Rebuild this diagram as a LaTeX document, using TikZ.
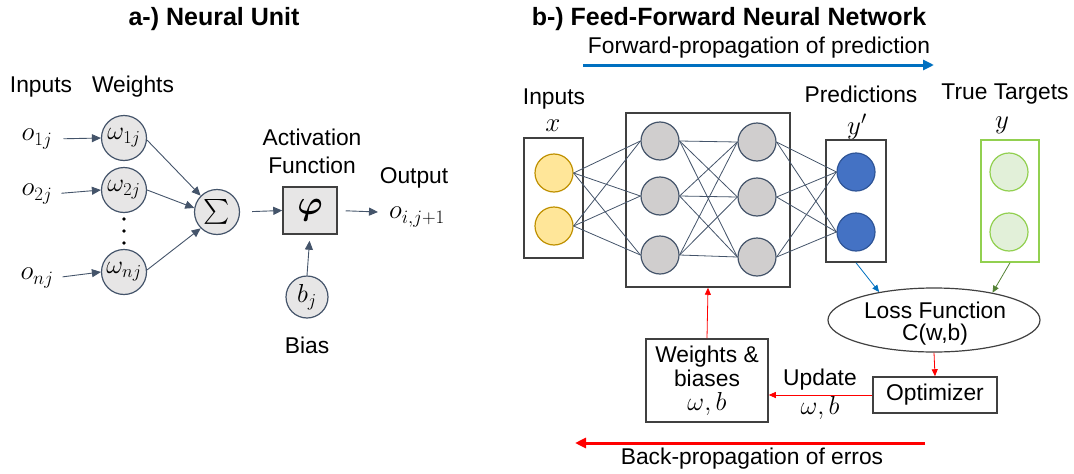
\RequirePackage{fix-cm}
\documentclass[tikz,border=0pt]{standalone}
\usepackage{amsmath}
\usepackage[no-math]{fontspec}
\setmainfont{Liberation Sans}
\usetikzlibrary{arrows.meta,shapes.geometric}
\definecolor{edgec}{HTML}{44546A}
\definecolor{dgray}{HTML}{404040}
\definecolor{lgfill}{HTML}{E7E6E6}
\definecolor{hidfill}{HTML}{D0CECE}
\definecolor{yelfill}{HTML}{FFE699}
\definecolor{yeldraw}{HTML}{BF9000}
\definecolor{bluefill}{HTML}{4472C4}
\definecolor{bluedraw}{HTML}{2F5597}
\definecolor{grnfill}{HTML}{E2F0D9}
\definecolor{grndraw}{HTML}{92D050}
\definecolor{grnarrow}{HTML}{548235}
\definecolor{fwdblue}{HTML}{0070C0}
\begin{document}
\begin{tikzpicture}[x=1pt,y=-1pt,
  font=\fontsize{22.8}{26}\selectfont,
  txt/.style={inner sep=0pt, align=center},
  mth/.style={inner sep=0pt, font=\fontsize{27}{30}\selectfont},
  wc/.style={circle, draw=edgec, fill=lgfill, line width=1.2pt, minimum size=45pt, inner sep=0pt, font=\fontsize{26}{28}\selectfont},
  nc/.style={circle, line width=1.2pt, minimum size=38pt, inner sep=0pt},
  hid/.style={nc, draw=edgec, fill=hidfill},
  yel/.style={nc, draw=yeldraw, fill=yelfill},
  blu/.style={nc, draw=bluedraw, fill=bluefill},
  grn/.style={nc, draw=grndraw, fill=grnfill},
  nbox/.style={draw=dgray, line width=1.5pt, inner sep=0pt, align=center},
  arr/.style={draw=edgec, line width=0.9pt, -{Triangle[length=9pt,width=8pt]}},
  conn/.style={draw=edgec, line width=0.8pt},
  thinarr/.style={line width=0.8pt, -{Triangle[length=7pt,width=6pt]}},
  bigarr/.style={line width=3pt, -{Triangle[length=11pt,width=10pt]}}
]
\useasboundingbox (0,0) rectangle (1074,474);

% ---------- a) Neural unit ----------
\node[txt, font=\fontsize{25}{28}\selectfont\bfseries] (ta) at (214,19) {a-) Neural Unit};
\node[txt] (inA) at (41,87) {Inputs};
\node[txt] (wA) at (133,87) {Weights};
\node[mth] (o1) at (37,139) {$o_{1j}$};
\node[mth] (o2) at (37,194) {$o_{2j}$};
\node[mth] (on) at (37,278) {$o_{nj}$};
\node[wc] (w1) at (124,138) {$\omega_{1j}$};
\node[wc] (w2) at (124,190) {$\omega_{2j}$};
\node[wc] (wn) at (124,272) {$\omega_{nj}$};
\fill (124,219) circle (1.8);
\fill (124,231) circle (1.8);
\fill (124,243) circle (1.8);
\node[wc] (sum) at (217,212) {\fontsize{29}{30}\selectfont$\sum$};
\node[nbox, fill=lgfill, minimum width=54pt, minimum height=47pt, font=\fontsize{34}{34}\selectfont] (phi) at (310,210.5) {$\boldsymbol{\varphi}$};
\node[txt, font=\fontsize{22.8}{28}\selectfont] (act) at (312,151) {Activation\\Function};
\node[txt] (outl) at (414,178) {Output};
\node[mth] (oo) at (417,217) {$o_{i,j+1}$};
\coordinate (oend) at (378,212);
\node[wc, minimum size=42pt] (bj) at (307,297) {$b_j$};
\node[txt] (bias) at (307,345) {Bias};

\draw[arr, shorten <=11pt] (o1.east) -- (w1.west);
\draw[arr, shorten <=9pt] (o2.east) -- (w2.west);
\draw[arr, shorten <=9pt] (on.east) -- (wn.west);
\draw[arr] (w1.-5) -- (sum.135);
\draw[arr] (w2.east) -- (sum.170);
\draw[arr] (wn.5) -- (sum.-135);
\draw[arr, shorten <=12pt] (sum.east) -- (phi.west);
\draw[arr, shorten <=8pt] (phi.east) -- (oend);
\draw[arr, shorten >=6pt] (bj.north) -- (phi.south);

% ---------- b) Feed-forward network ----------
\node[txt, font=\fontsize{25}{28}\selectfont\bfseries] (tb) at (729,19) {b-) Feed-Forward Neural Network};
\node[txt] (fp) at (759,48) {Forward-propagation of prediction};
\coordinate (fa) at (583,65);
\coordinate (fb) at (934,65);
\draw[bigarr, fwdblue] (fa) -- (fb);

\node[txt] (inB) at (554,99) {Inputs};
\node[mth] (xl) at (553,126) {$x$};
\node[txt] (prl) at (861,94) {Predictions};
\node[mth] (ypl) at (857,127) {$y'$};
\node[txt] (ttl) at (1005,94) {True Targets};
\node[mth] (yl) at (1002,125) {$y$};

\node[nbox, minimum width=59pt, minimum height=120pt] (ibox) at (553.5,198) {};
\node[nbox, minimum width=164pt, minimum height=174pt] (hbox) at (708,200) {};
\node[nbox, minimum width=60pt, minimum height=122pt] (pbox) at (856,201) {};
\node[nbox, draw=grndraw, minimum width=58pt, minimum height=122pt] (tbox) at (1010,201) {};

\node[yel] (i1) at (554,173) {};
\node[yel] (i2) at (554,226) {};
\node[hid] (h1) at (660,141) {};
\node[hid] (h2) at (660,196) {};
\node[hid] (h3) at (660,255) {};
\node[hid] (g1) at (757,142) {};
\node[hid] (g2) at (757,197) {};
\node[hid] (g3) at (757,257) {};
\node[blu] (p1) at (856,172) {};
\node[blu] (p2) at (856,232) {};
\node[grn] (t1) at (1009,172) {};
\node[grn] (t2) at (1009,232) {};

\foreach \a in {i1,i2}{\foreach \b in {h1,h2,h3}{\draw[conn] (\a.east) -- (\b.west);}}
\foreach \a in {h1,h2,h3}{\foreach \b in {g1,g2,g3}{\draw[conn] (\a.east) -- (\b.west);}}
\foreach \a in {g1,g2,g3}{\foreach \b in {p1,p2}{\draw[conn] (\a.east) -- (\b.west);}}

\node[ellipse, draw=dgray, line width=1.2pt, minimum width=212pt, minimum height=64pt, inner sep=0pt] (loss) at (934,320) {};
\node[txt, font=\fontsize{22.8}{22}\selectfont] (losst) at (935,324) {Loss Function\\C(w,b)};
\node[nbox, minimum width=124pt, minimum height=36pt] (opt) at (935,395) {Optimizer};
\node[nbox, minimum width=122pt, minimum height=83pt, font=\fontsize{22.8}{24}\selectfont] (wb) at (707,380.5) {Weights \&\\biases\\{\fontsize{26}{24}\selectfont$\omega, b$}};
\node[txt] (upd) at (820,380) {Update};
\node[mth, font=\fontsize{26}{28}\selectfont] (updw) at (820,408) {$\omega, b$};

\draw[thinarr, fwdblue] (pbox.south) -- (loss.153);
\draw[thinarr, grnarrow] (tbox.south) -- (loss.25);
\draw[thinarr, red] (loss.south) -- (opt.north);
\draw[thinarr, red] (opt.west) -- (opt.west -| wb.east);
\draw[thinarr, red] (wb.north) -- (hbox.south);

\coordinate (ba) at (925,443);
\coordinate (bb) at (575,443);
\draw[bigarr, red] (ba) -- (bb);
\node[txt] (bp) at (752,459) {Back-propagation of erros};
\end{tikzpicture}
\end{document}
